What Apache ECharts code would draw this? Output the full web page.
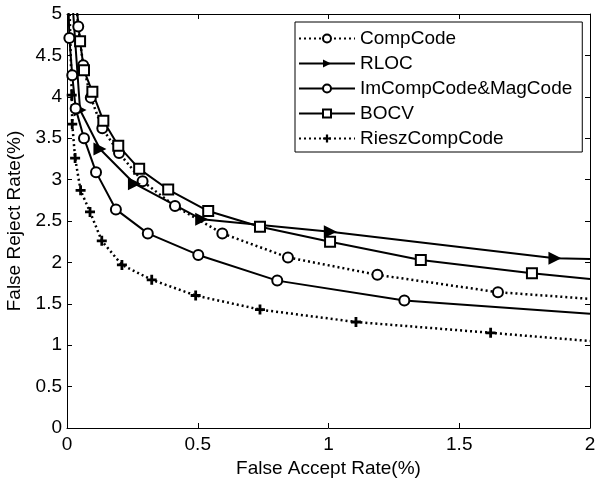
<!DOCTYPE html>
<html>
<head>
<meta charset="utf-8">
<script src="https://cdn.jsdelivr.net/npm/echarts@6/dist/echarts.min.js"></script>
<style>
  html, body { margin: 0; padding: 0; background: #fff; }
  #chart { width: 596px; height: 481px; }
</style>
</head>
<body>
<div id="chart"></div>
<script>
// series names
const seriesNames = ['CompCode', 'RLOC', 'ImCompCode&MagCode', 'BOCV', 'RieszCompCode'];

// FAR (%) / FRR (%) per curve
const compCodeFAR = [0.03, 0.043, 0.062, 0.091, 0.135, 0.199, 0.289, 0.413, 0.594, 0.845, 1.187, 1.648, 2.0];
const compCodeFRR = [5.3, 4.85, 4.38, 3.99, 3.62, 3.32, 2.98, 2.68, 2.35, 2.06, 1.85, 1.64, 1.56];

const rlocFAR = [0.015, 0.05, 0.126, 0.258, 0.515, 1.007, 1.866, 2.0];
const rlocFRR = [5.4, 3.84, 3.37, 2.95, 2.52, 2.37, 2.05, 2.04];

const imCompFAR = [0.004, 0.009, 0.02, 0.033, 0.065, 0.111, 0.187, 0.309, 0.502, 0.804, 1.29, 2.0];
const imCompFRR = [5.3, 4.71, 4.26, 3.86, 3.50, 3.09, 2.64, 2.35, 2.09, 1.78, 1.54, 1.38];

const bocvFAR = [0.03, 0.05, 0.065, 0.097, 0.139, 0.196, 0.276, 0.387, 0.54, 0.738, 1.006, 1.353, 1.778, 2.0];
const bocvFRR = [5.3, 4.67, 4.32, 4.06, 3.71, 3.41, 3.13, 2.88, 2.62, 2.43, 2.25, 2.03, 1.87, 1.80];

const rieszFAR = [0.008, 0.018, 0.02, 0.031, 0.052, 0.088, 0.133, 0.21, 0.324, 0.492, 0.738, 1.105, 1.62, 2.0];
const rieszFRR = [5.3, 4.02, 3.67, 3.26, 2.87, 2.61, 2.26, 1.97, 1.79, 1.60, 1.43, 1.28, 1.15, 1.05];

// pair up, and hide the marker on the point sitting on the right border (curve is cut there)
function zip(xs, ys) {
  return xs.map(function (x, i) {
    if (x >= 2) return { value: [x, ys[i]], symbol: 'none' };
    return [x, ys[i]];
  });
}

const plusPath = 'path://M3.6,0H6.4V3.6H10V6.4H6.4V10H3.6V6.4H0V3.6H3.6Z';
const font = 'Liberation Sans, Arial, sans-serif';
const fs = 19;

let chart = echarts.init(document.getElementById('chart'), null, { renderer: 'canvas' });

// common line look
function lineSeries(name, data, dotted, symbol, size, rotate, filled) {
  return {
    name: name,
    type: 'line',
    data: data,
    symbol: symbol,
    symbolSize: size,
    symbolRotate: rotate || 0,
    showAllSymbol: true,
    clip: true,
    lineStyle: { color: '#000', width: dotted ? 2.5 : 2, type: dotted ? [2, 3] : 'solid' },
    itemStyle: {
      color: filled ? '#000' : '#fff',
      borderColor: '#000',
      borderWidth: filled ? 0 : 2
    },
    emphasis: { disabled: true },
    animation: false
  };
}

let option = {
  backgroundColor: '#fff',
  animation: false,
  textStyle: { fontFamily: font },
  grid: { left: 67, right: 6, top: 14, bottom: 53, containLabel: false, outerBoundsMode: 'none' },
  legend: {
    orient: 'vertical',
    left: 295,
    top: 22,
    padding: [7, 10, 4, 3],
    itemGap: 6,
    itemWidth: 56,
    itemHeight: 10,
    backgroundColor: '#fff',
    borderColor: '#000',
    borderWidth: 1,
    borderRadius: 0,
    textStyle: { color: '#000', fontSize: fs, fontFamily: font, lineHeight: 19 },
    data: seriesNames
  },
  xAxis: [{
    type: 'value',
    min: 0, max: 2, interval: 0.5,
    name: 'False Accept Rate(%)',
    nameLocation: 'middle',
    nameGap: 29,
    nameTextStyle: { color: '#000', fontSize: fs, fontFamily: font },
    axisLine: { onZero: false, lineStyle: { color: '#000', width: 1 } },
    axisTick: { inside: true, length: 5, lineStyle: { color: '#000' } },
    axisLabel: { color: '#000', fontSize: fs, fontFamily: font, margin: 7 },
    splitLine: { show: false }
  }, {
    type: 'value',
    position: 'top',
    min: 0, max: 2, interval: 0.5,
    axisLine: { onZero: false, lineStyle: { color: '#000', width: 1 } },
    axisTick: { inside: true, length: 5, lineStyle: { color: '#000' } },
    axisLabel: { show: false },
    splitLine: { show: false }
  }],
  yAxis: [{
    type: 'value',
    min: 0, max: 5, interval: 0.5,
    name: 'False Reject Rate(%)',
    nameLocation: 'middle',
    nameGap: 40,
    nameTextStyle: { color: '#000', fontSize: fs, fontFamily: font },
    axisLine: { show: true, onZero: false, lineStyle: { color: '#000', width: 1 } },
    axisTick: { show: true, inside: true, length: 5, lineStyle: { color: '#000' } },
    axisLabel: { color: '#000', fontSize: fs, fontFamily: font, margin: 5 },
    splitLine: { show: false }
  }, {
    type: 'value',
    position: 'right',
    min: 0, max: 5, interval: 0.5,
    axisLine: { show: true, onZero: false, lineStyle: { color: '#000', width: 1 } },
    axisTick: { show: true, inside: true, length: 5, lineStyle: { color: '#000' } },
    axisLabel: { show: false },
    splitLine: { show: false }
  }],
  series: [
    lineSeries(seriesNames[0], zip(compCodeFAR, compCodeFRR), true, 'circle', 10, 0, false),
    lineSeries(seriesNames[1], zip(rlocFAR, rlocFRR), false, 'triangle', 13, -90, true),
    lineSeries(seriesNames[2], zip(imCompFAR, imCompFRR), false, 'circle', 10, 0, false),
    lineSeries(seriesNames[3], zip(bocvFAR, bocvFRR), false, 'rect', 10, 0, false),
    lineSeries(seriesNames[4], zip(rieszFAR, rieszFRR), true, plusPath, 10, 0, true)
  ]
};

chart.setOption(option);
window.onresize = chart.resize;
</script>
</body>
</html>
